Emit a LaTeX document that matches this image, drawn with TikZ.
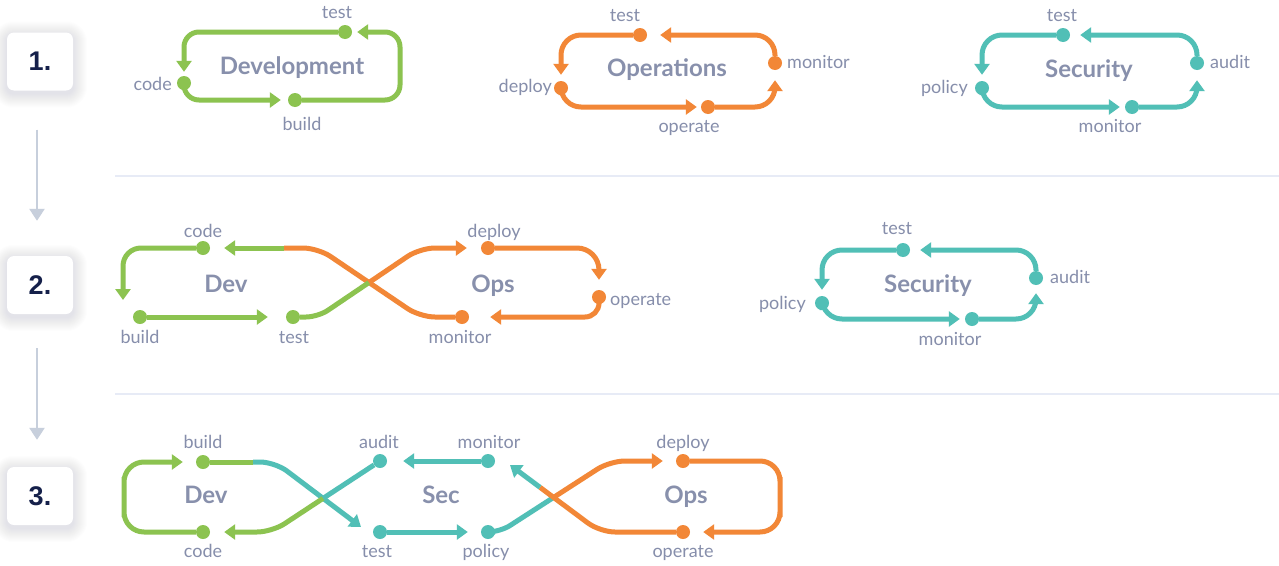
\documentclass[tikz,border=0pt]{standalone}
\usepackage{fontspec}
\setmainfont{Lato}
\newfontfamily\numfont{Liberation Sans}
\usetikzlibrary{arrows.meta,calc}
\definecolor{gc}{HTML}{8CC350}
\definecolor{oc}{HTML}{F28737}
\definecolor{tc}{HTML}{51BFB6}
\definecolor{labc}{HTML}{868EAB}
\definecolor{ttlc}{HTML}{8890AC}
\definecolor{numc}{HTML}{15204A}
\definecolor{sepc}{HTML}{E7EBF6}
\definecolor{arrc}{HTML}{C7CFDC}
\definecolor{shc}{HTML}{2A3570}
\pgfdeclarelayer{bg}\pgfdeclarelayer{lines}\pgfsetlayers{bg,lines,main}
\begin{document}
\begin{tikzpicture}[x=1pt,y=-1pt,
 dot/.style={circle,fill=#1,minimum size=14pt,inner sep=0pt},
 lab/.style={font=\fontsize{18}{20}\selectfont,text=labc,inner sep=0pt,anchor=base},
 ttl/.style={font=\bfseries\fontsize{24}{26}\selectfont,text=ttlc,inner sep=0pt,anchor=base},
 flow/.style={line width=5pt,draw=#1},
 tip/.style={-{Triangle[length=11pt,width=15pt]}},
 stepbox/.style={fill=white,rounded corners=7pt,minimum width=66pt,minimum height=58pt,inner sep=0pt,
   font=\numfont\bfseries\fontsize{27}{27}\selectfont,text=numc},
 sep/.style={draw=sepc,line width=2.5pt},
 down/.style={draw=arrc,line width=2.5pt,-{Triangle[length=12pt,width=15pt]}}
]
\useasboundingbox (0,0) rectangle (1279,565);
\begin{pgfonlayer}{bg}
\fill[white] (0,0) rectangle (1279,565);
\end{pgfonlayer}

% step boxes
\node[stepbox] (s1) at (40,61.5) {1.};
\node[stepbox] (s2) at (40,285) {2.};
\node[stepbox] (s3) at (40,496) {3.};
\begin{pgfonlayer}{bg}
\foreach \s in {s1,s2,s3}{
  \foreach \r [evaluate=\r as \rc using 7+\r] in {1,...,14}{
    \fill[shc,opacity=0.0065,rounded corners=\rc pt]
      ($(\s.north west)+(-\r,-\r+3)$) rectangle ($(\s.south east)+(\r,\r+3)$);
  }
}
\end{pgfonlayer}
\draw[down,shorten <=39pt,shorten >=35pt] ($(s1.south)+(-3,0)$) -- ($(s2.north)+(-3,0)$);
\draw[down,shorten <=34pt,shorten >=27pt] ($(s2.south)+(-3,0)$) -- ($(s3.north)+(-3,0)$);

% separators
\draw[sep] (115,176) -- (1279,176);
\draw[sep] (115,394) -- (1279,394);

% ---------- Row 1: Development ----------
\node[dot=gc] (d1t) at (345,32) {};
\node[dot=gc] (d1c) at (184,83) {};
\node[dot=gc] (d1b) at (295,100) {};
\coordinate (d1r) at (400,66);
\begin{pgfonlayer}{lines}
\draw[flow=gc,tip,rounded corners=15pt,shorten >=4pt] (d1t) -| (d1c);
\draw[flow=gc,tip,rounded corners=15pt,shorten >=7pt] (d1c) |- (d1b);
\draw[flow=gc,tip,rounded corners=15pt,shorten >=5pt] (d1b) -| (d1r) |- (d1t);
\end{pgfonlayer}
\node[lab] (l1t) at (337,18) {test};
\node[lab,anchor=base east] (l1c) at (172,90) {code};
\node[lab] (l1b) at (302,130) {build};
\node[ttl] (t1d) at (292,74) {Development};

% ---------- Row 1: Operations ----------
\node[dot=oc] (o1t) at (640,35) {};
\node[dot=oc] (o1m) at (775,63) {};
\node[dot=oc] (o1d) at (561,88) {};
\node[dot=oc] (o1o) at (708,107) {};
\begin{pgfonlayer}{lines}
\draw[flow=oc,tip,rounded corners=20pt,shorten >=6pt] (o1t) -| (o1d);
\draw[flow=oc,tip,rounded corners=20pt,shorten >=4pt] (o1d) |- (o1o);
\draw[flow=oc,tip,rounded corners=20pt,shorten >=10pt] (o1o) -| (o1m);
\draw[flow=oc,tip,rounded corners=20pt,shorten >=13pt] (o1m) |- (o1t);
\end{pgfonlayer}
\node[lab] (lo1t) at (625,21) {test};
\node[lab,anchor=base west] (lo1m) at (787,68) {monitor};
\node[lab,anchor=base east] (lo1d) at (552,92) {deploy};
\node[lab] (lo1o) at (689,132) {operate};
\node[ttl] (t1o) at (667,76) {Operations};

% ---------- Row 1: Security ----------
\node[dot=tc] (s1t) at (1063,35) {};
\node[dot=tc] (s1a) at (1197,63) {};
\node[dot=tc] (s1p) at (982,88) {};
\node[dot=tc] (s1m) at (1132,107) {};
\begin{pgfonlayer}{lines}
\draw[flow=tc,tip,rounded corners=20pt,shorten >=6pt] (s1t) -| (s1p);
\draw[flow=tc,tip,rounded corners=20pt,shorten >=5pt] (s1p) |- (s1m);
\draw[flow=tc,tip,rounded corners=20pt,shorten >=10pt] (s1m) -| (s1a);
\draw[flow=tc,tip,rounded corners=20pt,shorten >=10pt] (s1a) |- (s1t);
\end{pgfonlayer}
\node[lab] (ls1t) at (1062,21) {test};
\node[lab,anchor=base west] (ls1a) at (1210,68) {audit};
\node[lab,anchor=base east] (ls1p) at (968,93) {policy};
\node[lab] (ls1m) at (1110,132) {monitor};
\node[ttl] (t1s) at (1089,77) {Security};

% ---------- Row 2: Dev + Ops ----------
\node[dot=gc] (r2c) at (203,248) {};
\node[dot=gc] (r2b) at (140,317) {};
\node[dot=gc] (r2t) at (293,317) {};
\node[dot=oc] (r2m) at (462,317) {};
\node[dot=oc] (r2d) at (488,248) {};
\node[dot=oc] (r2o) at (599,297) {};
\coordinate (r2bt) at (123,300);
\coordinate (r2sw) at (284,248);
\coordinate (r2x) at (369,282.5);
\begin{pgfonlayer}{lines}
\draw[flow=gc,tip,rounded corners=18pt] (r2c) -| (r2bt);
\draw[flow=gc,tip,shorten >=18pt] (r2b) -- (r2t);
\draw[flow=oc,rounded corners=15pt] (r2m) -- (420,317) -- (318,248) -- (r2sw);
\draw[flow=gc,tip,shorten >=14pt] (r2sw) -- (r2c);
\draw[flow=gc,rounded corners=12pt] (r2t) -- (318,317) -- (r2x);
\draw[flow=oc,tip,rounded corners=15pt,shorten >=14pt] (r2x) -- (420,248) -- (r2d);
\draw[flow=oc,tip,rounded corners=22pt,shorten >=10pt] (r2d) -| (r2o);
\draw[flow=oc,tip,rounded corners=14pt,shorten >=21pt] (r2o) |- (r2m);
\end{pgfonlayer}
\node[lab] (l2c) at (203,237) {code};
\node[lab] (l2b) at (140,343) {build};
\node[lab] (l2t) at (294,343) {test};
\node[lab] (l2m) at (460,343) {monitor};
\node[lab] (l2d) at (494,237) {deploy};
\node[lab,anchor=base west] (l2o) at (610,305) {operate};
\node[ttl] (t2d) at (226,292) {Dev};
\node[ttl] (t2o) at (493,292) {Ops};

% ---------- Row 2: Security ----------
\node[dot=tc] (s2t) at (903,250) {};
\node[dot=tc] (s2a) at (1036,278) {};
\node[dot=tc] (s2p) at (822,303) {};
\node[dot=tc] (s2m) at (972,319) {};
\begin{pgfonlayer}{lines}
\draw[flow=tc,tip,rounded corners=20pt,shorten >=6pt] (s2t) -| (s2p);
\draw[flow=tc,tip,rounded corners=20pt,shorten >=5pt] (s2p) |- (s2m);
\draw[flow=tc,tip,rounded corners=20pt,shorten >=8pt] (s2m) -| (s2a);
\draw[flow=tc,tip,rounded corners=20pt,shorten >=10pt] (s2a) |- (s2t);
\end{pgfonlayer}
\node[lab] (ls2t) at (897,234) {test};
\node[lab,anchor=base west] (ls2a) at (1050,283) {audit};
\node[lab,anchor=base east] (ls2p) at (806,309) {policy};
\node[lab] (ls2m) at (950,345) {monitor};
\node[ttl] (t2s) at (928,292) {Security};

% ---------- Row 3: Dev + Sec + Ops ----------
\node[dot=gc] (r3b) at (203,462) {};
\node[dot=gc] (r3c) at (203,532) {};
\node[dot=tc] (r3a) at (380,461) {};
\node[dot=tc] (r3t) at (380,532) {};
\node[dot=tc] (r3m) at (488,461) {};
\node[dot=tc] (r3p) at (488,532) {};
\node[dot=oc] (r3d) at (683,461) {};
\node[dot=oc] (r3o) at (683,532) {};
\coordinate (r3L) at (124,497);
\coordinate (r3R) at (780,497);
\coordinate (r3sw1) at (253,462);
\coordinate (r3tt) at (361,527);
\coordinate (r3x1) at (323,498.4);
\coordinate (r3x2) at (553.6,497.4);
\coordinate (r3sw2) at (540,487.3);
\coordinate (r3mt) at (510,465);
\begin{pgfonlayer}{lines}
\draw[flow=gc,tip,rounded corners=20pt,shorten >=13pt] (r3c) -| (r3L) |- (r3b);
\draw[flow=gc] (r3b) -- (r3sw1);
\draw[flow=tc,tip,rounded corners=15pt] (r3sw1) -- (275,462) -- (r3tt);
\draw[flow=tc,tip,shorten >=13pt] (r3t) -- (r3p);
\draw[flow=tc,tip,shorten >=16pt] (r3m) -- (r3a);
\draw[flow=tc] (r3a) -- (r3x1);
\draw[flow=gc,tip,rounded corners=15pt,shorten >=14pt] (r3x1) -- (272,532) -- (r3c);
\draw[flow=tc,rounded corners=12pt] (r3p) -- (500,532) -- (r3x2);
\draw[flow=oc,tip,rounded corners=15pt,shorten >=13pt] (r3x2) -- (610,461) -- (r3d);
\draw[flow=oc,tip,rounded corners=20pt,shorten >=13pt] (r3d) -| (r3R) |- (r3o);
\draw[flow=oc,rounded corners=15pt] (r3o) -- (600,532) -- (r3sw2);
\draw[flow=tc,tip] (r3sw2) -- (r3mt);
\end{pgfonlayer}
\node[lab] (l3b) at (203,448) {build};
\node[lab] (l3c) at (203,557) {code};
\node[lab] (l3a) at (379,448) {audit};
\node[lab] (l3t) at (377,557) {test};
\node[lab] (l3m) at (489,448) {monitor};
\node[lab] (l3p) at (486,557) {policy};
\node[lab] (l3d) at (683,448) {deploy};
\node[lab] (l3o) at (683,557) {operate};
\node[ttl] (t3d) at (206,503) {Dev};
\node[ttl] (t3s) at (441,503) {Sec};
\node[ttl] (t3o) at (686,503) {Ops};
\end{tikzpicture}
\end{document}
